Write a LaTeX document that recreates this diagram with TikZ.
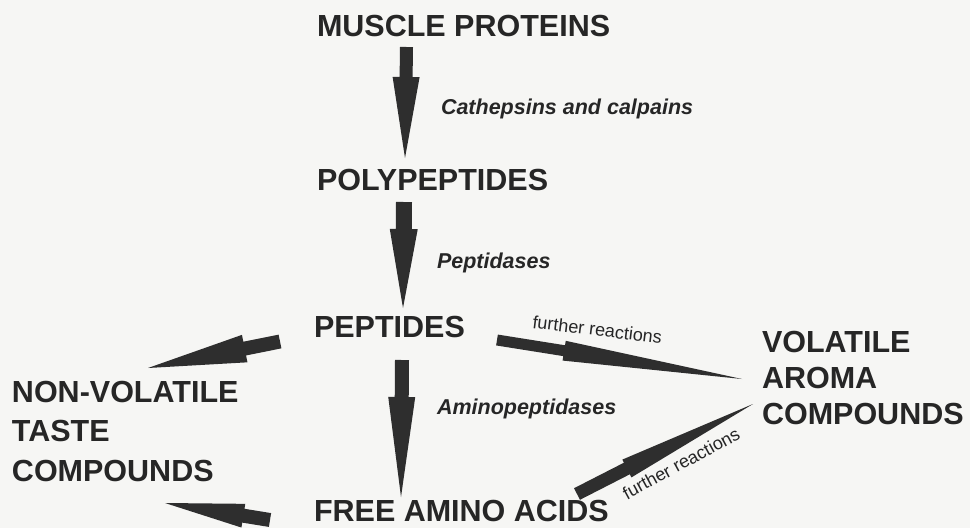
\documentclass[tikz,border=0pt]{standalone}
\usepackage{fontspec}
\setmainfont{Liberation Sans}
\usetikzlibrary{calc}
\definecolor{ink}{HTML}{262626}
\definecolor{arrowink}{HTML}{2E2E2E}
\definecolor{paper}{HTML}{F6F6F4}
\tikzset{
  big/.style={anchor=base west,inner sep=0pt,outer sep=0pt,text=ink,font=\fontsize{30.5}{36}\selectfont\bfseries},
  enzyme/.style={anchor=base west,inner sep=0pt,outer sep=0pt,text=ink,font=\fontsize{21.5}{26}\selectfont\bfseries\itshape},
  further/.style={anchor=base west,inner sep=0pt,outer sep=0pt,text=ink,font=\fontsize{18}{22}\selectfont},
  arrowfill/.style={fill=arrowink}
}
% tail, tip, shaft half-width, head half-width, shaft length
\newcommand\fatarrow[5]{%
  \fill[arrowfill] let \p1=($(#2)-(#1)$), \n1={atan2(\y1,\x1)} in
    ($(#1)+(\n1+90:#3)$) -- ($(#1)+(\n1:#5)+(\n1+90:#3)$) --
    ($(#1)+(\n1:#5)+(\n1+90:#4)$) -- (#2) --
    ($(#1)+(\n1:#5)+(\n1-90:#4)$) -- ($(#1)+(\n1:#5)+(\n1-90:#3)$) --
    ($(#1)+(\n1-90:#3)$) -- cycle;}
\begin{document}
\begin{tikzpicture}[x=1pt,y=1pt]
\fill[paper] (0,0) rectangle (970,-528);
\useasboundingbox (0,0) rectangle (970,-528);

% texts
\node[big] (mp) at (317,-36) {MUSCLE PROTEINS};
\node[enzyme] (cc) at (441,-114) {Cathepsins and calpains};
\node[big] (pp) at (317,-190) {POLYPEPTIDES};
\node[enzyme] (pt) at (437,-268) {Peptidases};
\node[big] (pe) at (314,-337) {PEPTIDES};
\node[enzyme] (ap) at (437,-414) {Aminopeptidases};
\node[big] (fa) at (314,-521) {FREE AMINO ACIDS};
% multi-line nodes: base anchor is the baseline of the last line
\node[big,align=left,font=\fontsize{30.5}{39.5}\selectfont\bfseries] (nv) at (12,-481) {NON-VOLATILE\\TASTE\\COMPOUNDS};
\node[big,align=left,font=\fontsize{30.5}{36}\selectfont\bfseries] (va) at (762,-424) {VOLATILE\\AROMA\\COMPOUNDS};
\node[further,rotate=-7] (fr1) at (532,-328) {further reactions};
\node[further,rotate=28.5] (fr2) at (627,-500) {further reactions};

% arrow end points
\coordinate (a1t) at (406.5,-47);  \coordinate (a1h) at (405,-158);
\coordinate (a2t) at (404,-202);   \coordinate (a2h) at (403,-308);
\coordinate (a3t) at (402,-360);   \coordinate (a3h) at (401,-497);
\coordinate (a4t) at (280,-341.5); \coordinate (a4h) at (148,-368);
\coordinate (a5t) at (270,-520);   \coordinate (a5h) at (165,-503);
\coordinate (a6t) at (497,-340);   \coordinate (a6h) at (742,-379);
\coordinate (a7t) at (577,-494);   \coordinate (a7h) at (753,-404);

\fatarrow{a1t}{a1h}{6.5}{13.5}{30}
\fatarrow{a2t}{a2h}{8}{14}{27}
\fatarrow{a3t}{a3h}{7}{13.5}{37}
\fatarrow{a4t}{a4h}{7}{14}{36}
\fatarrow{a5t}{a5h}{7}{12}{27}
\fatarrow{a6t}{a6h}{5.5}{10}{68}
\fatarrow{a7t}{a7h}{6.5}{10}{56}
\end{tikzpicture}
\end{document}
